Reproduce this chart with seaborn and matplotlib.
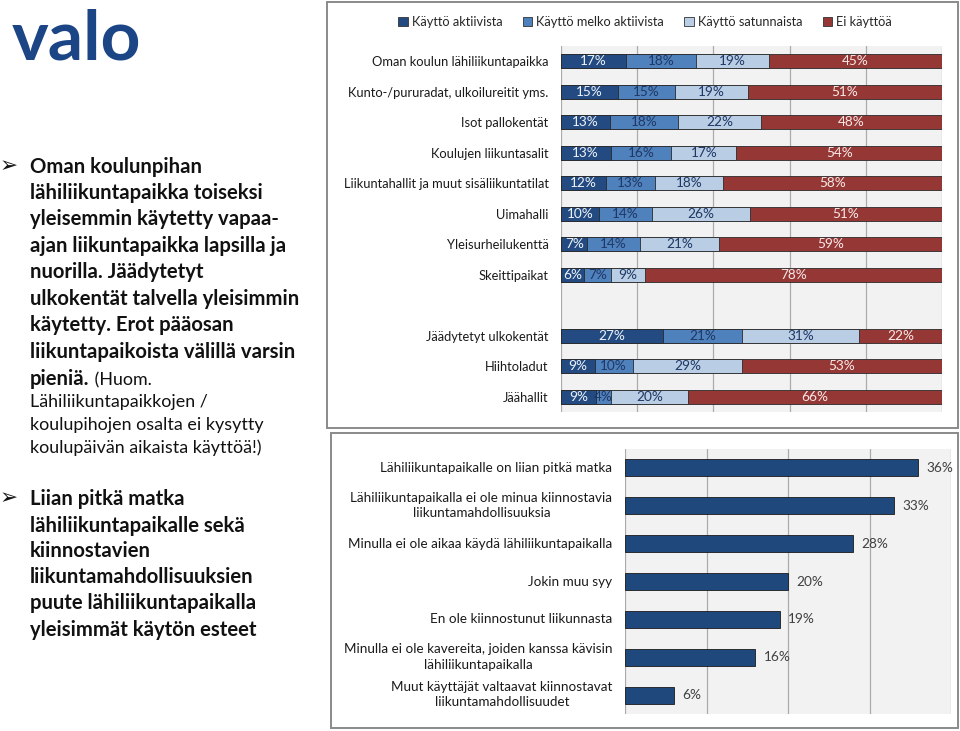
import matplotlib
matplotlib.use("Agg")
import matplotlib.pyplot as plt
from matplotlib.patches import Rectangle, Patch
from matplotlib.transforms import offset_copy
import seaborn as sns
import pandas as pd
import numpy as np

# ---------------- data ----------------
places = ["Oman koulun lähiliikuntapaikka", "Kunto-/pururadat, ulkoilureitit yms.",
          "Isot pallokentät", "Koulujen liikuntasalit",
          "Liikuntahallit ja muut sisäliikuntatilat", "Uimahalli",
          "Yleisurheilukenttä", "Skeittipaikat", " ",
          "Jäädytetyt ulkokentät", "Hiihtoladut", "Jäähallit"]
use_active = [17, 15, 13, 13, 12, 10, 7, 6, np.nan, 27, 9, 9]
use_fairly = [18, 15, 18, 16, 13, 14, 14, 7, np.nan, 21, 10, 4]
use_occasional = [19, 19, 22, 17, 18, 26, 21, 9, np.nan, 31, 29, 20]
no_use = [45, 51, 48, 54, 58, 51, 59, 78, np.nan, 22, 53, 66]
series_names = ["Käyttö aktiivista", "Käyttö melko aktiivista",
                "Käyttö satunnaista", "Ei käyttöä"]

reasons_line1 = ["Lähiliikuntapaikalle on liian pitkä matka",
                 "Lähiliikuntapaikalla ei ole minua kiinnostavia",
                 "Minulla ei ole aikaa käydä lähiliikuntapaikalla",
                 "Jokin muu syy",
                 "En ole kiinnostunut liikunnasta",
                 "Minulla ei ole kavereita, joiden kanssa kävisin",
                 "Muut käyttäjät valtaavat kiinnostavat"]
reasons_line2 = ["", "liikuntamahdollisuuksia", "", "", "",
                 "lähiliikuntapaikalla", "liikuntamahdollisuudet"]
reason_pct = [36, 33, 28, 20, 19, 16, 6]

colors = ["#234B81", "#4F81BD", "#B9CDE5", "#953735"]
label_colors = ["#EEF2F8", "#1F3864", "#1F3864", "#F7E8E8"]

# ---------------- figure ----------------
sns.set_theme(style="white")
plt.rcParams["font.family"] = ["Lato", "DejaVu Sans"]
W, H = 960, 731
fig = plt.figure(figsize=(W / 100, H / 100), dpi=100)
fig.patch.set_facecolor("white")


def fx(px):
    return px / W


def fy(py):
    return 1 - py / H


# frames
for (x0, y0, x1, y1) in [(327, 2, 958, 428), (331, 433, 958, 728)]:
    fig.patches.append(Rectangle((fx(x0), fy(y1)), fx(x1) - fx(x0), fy(y0) - fy(y1),
                                 transform=fig.transFigure, fill=False,
                                 edgecolor="#8a8a8a", lw=1.4, zorder=0))

# ---------------- top stacked chart ----------------
ax1 = fig.add_axes([fx(561), fy(412), fx(942) - fx(561), (412 - 46) / H])
df = pd.DataFrame({"place": places, series_names[0]: use_active,
                   series_names[1]: use_fairly, series_names[2]: use_occasional,
                   series_names[3]: no_use})
vals = df[series_names].to_numpy(dtype=float)
tot = vals.sum(axis=1, keepdims=True)
cum = np.cumsum(vals / tot * 100, axis=1)
starts = cum - vals / tot * 100
cdf = pd.DataFrame(cum, columns=series_names)
cdf["place"] = places
valid = cdf.dropna()
for i in range(3, -1, -1):
    sns.barplot(data=valid, x=series_names[i], y="place", order=places,
                orient="h", color=colors[i], width=0.45, errorbar=None,
                edgecolor="#2a2a2a", linewidth=0.6, saturation=1, ax=ax1)
for r in range(len(places)):
    if np.isnan(vals[r, 0]):
        continue
    for i in range(4):
        c = (starts[r, i] + cum[r, i]) / 2
        ax1.text(c, r, f"{int(vals[r, i])}%", ha="center", va="center",
                 fontsize=9.8, color=label_colors[i])
ax1.set_xlim(0, 100)
ax1.set_xticks([0, 20, 40, 60, 80, 100])
ax1.set_xticklabels([])
ax1.set_xlabel("")
ax1.set_ylabel("")
ax1.set_facecolor("#F2F2F2")
ax1.grid(axis="x", color="#ABABAB", lw=0.9)
ax1.grid(axis="y", visible=False)
ax1.set_axisbelow(True)
for s in ax1.spines.values():
    s.set_visible(False)
ax1.tick_params(axis="both", length=0)
ax1.tick_params(axis="y", pad=9, labelsize=9.3, labelcolor="#1a1a1a")

handles = [Patch(facecolor=c, edgecolor="#333333", lw=0.6) for c in colors]
fig.legend(handles, series_names, loc="center", bbox_to_anchor=(fx(645), fy(22)),
           ncol=4, frameon=False, fontsize=9.2, handlelength=0.75, handleheight=0.75,
           handletextpad=0.3, columnspacing=1.6, borderaxespad=0)

# ---------------- bottom bar chart ----------------
ax2 = fig.add_axes([fx(625), fy(714), fx(951) - fx(625), (714 - 449) / H])
bdf = pd.DataFrame({"reason": reasons_line1, "pct": reason_pct})
sns.barplot(data=bdf, x="pct", y="reason", orient="h", color="#1F497D",
            width=0.45, edgecolor="#1a1a1a", linewidth=0.6, saturation=1,
            errorbar=None, ax=ax2)
for r, v in enumerate(reason_pct):
    ax2.text(v + 1.0, r, f"{v}%", ha="left", va="center", fontsize=9.8,
             color="#404040")
ax2.set_xlim(0, 40)
ax2.set_xticks([0, 10, 20, 30, 40])
ax2.set_xticklabels([])
ax2.set_yticks(range(len(reasons_line1)))
ax2.set_yticklabels([])
ax2.set_xlabel("")
ax2.set_ylabel("")
ax2.set_facecolor("#F2F2F2")
ax2.grid(axis="x", color="#ABABAB", lw=0.9)
ax2.grid(axis="y", visible=False)
ax2.set_axisbelow(True)
for s in ax2.spines.values():
    s.set_visible(False)
ax2.tick_params(axis="both", length=0)

LFS = 9.7
renderer = fig.canvas.get_renderer()
for r, (l1, l2) in enumerate(zip(reasons_line1, reasons_line2)):
    if not l2:
        tr = offset_copy(ax2.get_yaxis_transform(), fig=fig, x=-9, y=0, units="points")
        ax2.text(0, r, l1, transform=tr, ha="right", va="center",
                 fontsize=LFS, color="#1a1a1a", clip_on=False)
    else:
        tr = offset_copy(ax2.get_yaxis_transform(), fig=fig, x=-9, y=1.5, units="points")
        t1 = ax2.text(0, r, l1, transform=tr, ha="right", va="bottom",
                      fontsize=LFS, color="#1a1a1a", clip_on=False)
        bb = t1.get_window_extent(renderer)
        cx = 0.5 * (bb.x0 + bb.x1)
        fig.text(cx / W, (bb.y0 - 3.5) / H, l2, ha="center", va="top",
                 fontsize=LFS, color="#1a1a1a")

# ---------------- left text ----------------
fig.text(fx(12), fy(60), "valo", fontsize=50, fontweight="bold",
         color="#1B4585", ha="left", va="baseline")

bold1 = ["Oman koulunpihan", "lähiliikuntapaikka toiseksi",
         "yleisemmin käytetty vapaa-", "ajan liikuntapaikka lapsilla ja",
         "nuorilla. Jäädytetyt", "ulkokentät talvella yleisimmin",
         "käytetty. Erot pääosan", "liikuntapaikoista välillä varsin", "pieniä."]
base1 = [173, 199, 225, 252, 278, 305, 331, 358, 385]
reg1 = ["Lähiliikuntapaikkojen /", "koulupihojen osalta ei kysytty",
        "koulupäivän aikaista käyttöä!)"]
base_reg1 = [407, 430, 453]
bold2 = ["Liian pitkä matka", "lähiliikuntapaikalle sekä", "kiinnostavien",
         "liikuntamahdollisuuksien", "puute lähiliikuntapaikalla",
         "yleisimmät käytön esteet"]
base2 = [505, 532, 557, 583, 609, 636]

BFS = 14.6
RFS = 12.9
last = None
for txt, b in zip(bold1, base1):
    last = fig.text(fx(30), fy(b), txt, fontsize=BFS, fontweight="bold",
                    color="#111111", ha="left", va="baseline")
lb = last.get_window_extent(renderer)
fig.text((lb.x1 + 1) / W, fy(385), " (Huom.", fontsize=RFS, color="#111111",
         ha="left", va="baseline")
for txt, b in zip(reg1, base_reg1):
    fig.text(fx(30), fy(b), txt, fontsize=RFS, color="#111111", ha="left",
             va="baseline")
for txt, b in zip(bold2, base2):
    fig.text(fx(30), fy(b), txt, fontsize=BFS, fontweight="bold",
             color="#111111", ha="left", va="baseline")
for b in [173, 505]:
    fig.text(fx(0), fy(b - 1), "\u27a2", fontsize=15.5, color="#111111",
             ha="left", va="baseline", family=["DejaVu Sans"])

fig.savefig("out.png", dpi=100, facecolor="white")
